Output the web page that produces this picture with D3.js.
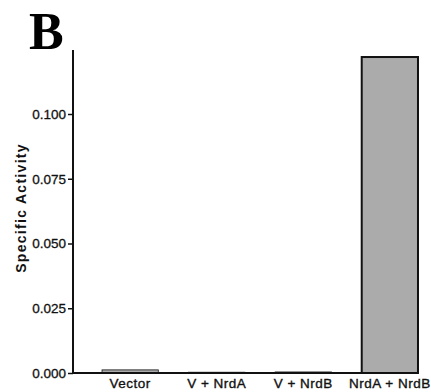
<!DOCTYPE html>
<html>
<head>
<meta charset="utf-8">
<script src="https://cdn.jsdelivr.net/npm/d3@7"></script>
<style>
  body { margin: 0; background: #fff; }
  svg { display: block; }
</style>
</head>
<body>
<svg width="431" height="392"></svg>
<script>
const svg = d3.select("svg");

// Chart data
const categories = ["Vector", "V + NrdA", "V + NrdB", "NrdA + NrdB"];
const activity = [0.0012, 0.0003, 0.0004, 0.122];
const tickValues = [0, 0.025, 0.05, 0.075, 0.1];

const axisX = 73;
const baseY = 373;

const xScale = d3.scaleBand()
    .domain(categories)
    .range([84.7, 435.3])
    .paddingInner(0.35)
    .paddingOuter(0.2);

const yScale = d3.scaleLinear()
    .domain([0, 0.1])
    .range([baseY, 114]);

// Panel letter
svg.append("text")
    .attr("x", 29)
    .attr("y", 49)
    .attr("font-family", "Liberation Serif, Times New Roman, serif")
    .attr("font-weight", "bold")
    .attr("font-size", 52)
    .text("B");

// Bars
svg.selectAll("rect.bar").data(activity)
    .enter().append("rect")
    .attr("class", "bar")
    .attr("x", (d, i) => xScale(categories[i]))
    .attr("y", d => yScale(d))
    .attr("width", xScale.bandwidth())
    .attr("height", d => baseY - yScale(d))
    .attr("fill", "#ababab")
    .attr("stroke", "#111")
    .attr("stroke-width", d => d > 0.01 ? 2 : 0.8);

// Y axis
const yAxis = d3.axisLeft(yScale)
    .tickValues(tickValues)
    .tickFormat(d3.format(".3f"))
    .tickSize(5)
    .tickPadding(2);

const gy = svg.append("g")
    .attr("transform", `translate(${axisX},0)`)
    .call(yAxis);
gy.select(".domain").remove();
gy.selectAll(".tick line").attr("stroke", "#111").attr("stroke-width", 1.5);
gy.selectAll(".tick text")
    .attr("font-family", "Liberation Sans, Arial, sans-serif")
    .attr("font-size", 13.5)
    .attr("fill", "#111")
    .attr("stroke", "#111")
    .attr("stroke-width", 0.3);

// Axis lines
svg.append("line")
    .attr("x1", axisX).attr("x2", axisX)
    .attr("y1", 50).attr("y2", baseY + 1)
    .attr("stroke", "#111").attr("stroke-width", 2);

svg.append("line")
    .attr("x1", axisX).attr("x2", xScale(categories[3]) + xScale.bandwidth())
    .attr("y1", baseY).attr("y2", baseY)
    .attr("stroke", "#111").attr("stroke-width", 2);

// X category labels
svg.selectAll("text.cat").data(categories)
    .enter().append("text")
    .attr("class", "cat")
    .attr("x", d => xScale(d) + xScale.bandwidth() / 2)
    .attr("y", 388)
    .attr("text-anchor", "middle")
    .attr("font-family", "Liberation Sans, Arial, sans-serif")
    .attr("font-size", 13.5)
    .attr("letter-spacing", 0.5)
    .attr("fill", "#111")
    .attr("stroke", "#111")
    .attr("stroke-width", 0.35)
    .text(d => d);

// Y axis title
svg.append("text")
    .attr("transform", "translate(26,208) rotate(-90)")
    .attr("text-anchor", "middle")
    .attr("font-family", "Liberation Sans, Arial, sans-serif")
    .attr("font-weight", "bold")
    .attr("font-size", 14)
    .attr("letter-spacing", 1.3)
    .attr("fill", "#111")
    .text("Specific Activity");
</script>
</body>
</html>
